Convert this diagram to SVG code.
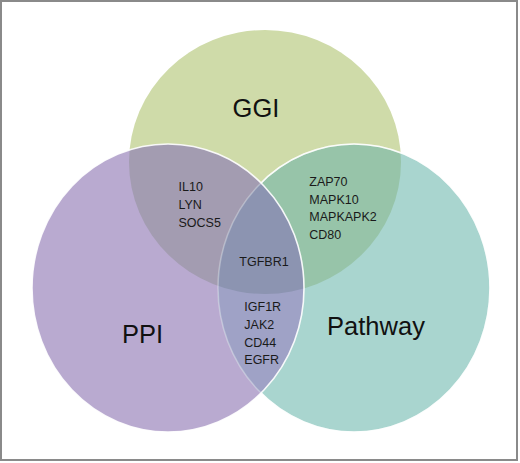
<svg xmlns="http://www.w3.org/2000/svg" width="520" height="463" viewBox="0 0 520 463">
  <style>
    .big { font-family: "Liberation Sans", Arial, sans-serif; font-size: 25.5px; fill: #111; }
    .gene { font-family: "Liberation Sans", Arial, sans-serif; font-size: 12.5px; fill: #1a1a1a; }
    .edge { fill: none; stroke: #ffffff; stroke-width: 1.6; }
  </style>
  <defs>
    <clipPath id="cGGI"><ellipse cx="265" cy="162" rx="136" ry="132"/></clipPath>
    <clipPath id="cPPI"><ellipse cx="168" cy="288" rx="136" ry="144"/></clipPath>
    <clipPath id="cNotPPI"><path clip-rule="evenodd" d="M0 0H520V463H0Z M32 288 A136 144 0 1 0 304 288 A136 144 0 1 0 32 288Z"/></clipPath>
  </defs>
  <rect x="1" y="1" width="516" height="459" fill="#ffffff" stroke="#8a8a8a" stroke-width="2"/>

  <g id="GGI">
    <ellipse cx="265" cy="162" rx="136" ry="132" fill="#cfdba9"/>
  </g>
  <g id="PPI">
    <ellipse cx="168" cy="288" rx="136" ry="144" fill="#b9aad0"/>
  </g>
  <g id="Pathway">
    <ellipse cx="354" cy="288" rx="136" ry="144" fill="#a9d5cf"/>
  </g>

  <g id="overlaps">
    <ellipse cx="168" cy="288" rx="136" ry="144" fill="#a39cb1" clip-path="url(#cGGI)"/>
    <ellipse cx="354" cy="288" rx="136" ry="144" fill="#97c4a9" clip-path="url(#cGGI)"/>
    <ellipse cx="354" cy="288" rx="136" ry="144" fill="#9fa2c6" clip-path="url(#cPPI)"/>
    <g clip-path="url(#cGGI)">
      <ellipse cx="354" cy="288" rx="136" ry="144" fill="#8c94b1" clip-path="url(#cPPI)"/>
    </g>
  </g>

  <g id="outlines">
    <ellipse class="edge" cx="354" cy="288" rx="136" ry="144" stroke-opacity="0.3"/>
    <ellipse class="edge" cx="354" cy="288" rx="136" ry="144" stroke-opacity="0.9" clip-path="url(#cNotPPI)"/>
    <ellipse class="edge" cx="168" cy="288" rx="136" ry="144" stroke-opacity="0.9"/>
  </g>

  <g id="labels">
    <text class="big" x="256" y="117" text-anchor="middle">GGI</text>
    <text class="big" x="142.5" y="343" text-anchor="middle">PPI</text>
    <text class="big" x="376" y="335" text-anchor="middle">Pathway</text>
  </g>

  <g id="GGI_PPI">
    <text class="gene" x="178.5" y="190.7">IL10</text>
    <text class="gene" x="178.5" y="208.7">LYN</text>
    <text class="gene" x="178.5" y="226.7">SOCS5</text>
  </g>
  <g id="GGI_Pathway">
    <text class="gene" x="309.3" y="186">ZAP70</text>
    <text class="gene" x="309.3" y="203.7">MAPK10</text>
    <text class="gene" x="309.3" y="221.4">MAPKAPK2</text>
    <text class="gene" x="309.3" y="239.1">CD80</text>
  </g>
  <g id="All">
    <text class="gene" x="239.3" y="266.3">TGFBR1</text>
  </g>
  <g id="PPI_Pathway">
    <text class="gene" x="244.3" y="311.3">IGF1R</text>
    <text class="gene" x="244.3" y="329">JAK2</text>
    <text class="gene" x="244.3" y="346.7">CD44</text>
    <text class="gene" x="244.3" y="364.3">EGFR</text>
  </g>
</svg>
